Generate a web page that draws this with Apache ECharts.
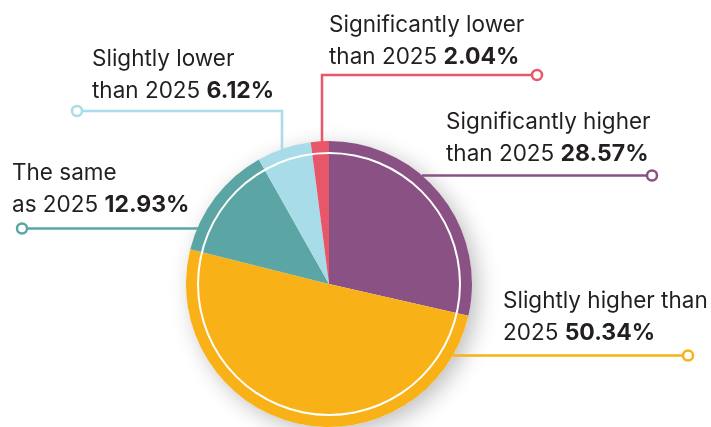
<!DOCTYPE html>
<html>
<head>
<meta charset="utf-8">
<script src="https://cdn.jsdelivr.net/npm/echarts@6/dist/echarts.min.js"></script>
<style>
html,body{margin:0;padding:0;background:#fff;}
#chart{width:711px;height:427px;}
</style>
</head>
<body>
<div id="chart"></div>
<script>
// ---- data ----
var categories = ['Significantly higher than 2025', 'Slightly higher than 2025', 'The same as 2025', 'Slightly lower than 2025', 'Significantly lower than 2025'];
var labelTexts = ['Significantly higher\nthan 2025', 'Slightly higher than\n2025', 'The same\nas 2025', 'Slightly lower\nthan 2025', 'Significantly lower\nthan 2025'];
var values = [28.57, 50.34, 12.93, 6.12, 2.04];

// ---- style / layout ----
var colors = ['#8A5185', '#F9B118', '#5CA5A5', '#A7DCE8', '#E8566A'];
var CX = 329, CY = 284, R = 143;
// label box top-left and leader line paths
var labelPos = [
  {x: 446, y: 106},
  {x: 503, y: 285},
  {x: 12, y: 157},
  {x: 92, y: 43},
  {x: 329, y: 9}
];
var linePaths = [
  [[422, 175.5], [652, 175.5]],
  [[453, 355.5], [688, 355.5]],
  [[198, 228.5], [22, 228.5]],
  [[282, 150], [282, 111], [77, 111]],
  [[322, 143], [322, 75], [537, 75]]
];

var chart = echarts.init(document.getElementById('chart'), null, {renderer: 'canvas'});

var pieData = values.map(function (v, i) {
  return {
    name: categories[i],
    value: v,
    itemStyle: {color: colors[i]},
    labelLine: {lineStyle: {color: colors[i]}}
  };
});

var endCircles = linePaths.map(function (p, i) {
  var end = p[p.length - 1];
  return {
    type: 'circle',
    shape: {cx: end[0], cy: end[1], r: 5},
    style: {fill: '#fff', stroke: colors[i], lineWidth: 2.5},
    z: 100
  };
});

var option = {
  backgroundColor: '#fff',
  animation: false,
  series: [
    {
      type: 'pie',
      silent: true,
      center: [CX, CY],
      radius: [0, R],
      data: [{value: 1, itemStyle: {color: '#fff'}}],
      label: {show: false},
      labelLine: {show: false},
      itemStyle: {
        shadowBlur: 22,
        shadowColor: 'rgba(0,0,0,0.25)',
        shadowOffsetX: 6,
        shadowOffsetY: 6
      },
      z: 1
    },
    {
      type: 'pie',
      center: [CX, CY],
      radius: [0, R],
      startAngle: 90,
      clockwise: true,
      avoidLabelOverlap: false,
      itemStyle: {borderWidth: 0},
      data: pieData,
      label: {
        show: true,
        position: 'outside',
        fontFamily: 'Inter',
        fontSize: 22.5,
        lineHeight: 32,
        color: '#231F20',
        formatter: function (p) {
          return labelTexts[p.dataIndex] + ' {b|' + p.value.toFixed(2) + '%}';
        },
        rich: {
          b: {fontFamily: 'Inter', fontSize: 23, lineHeight: 32, fontWeight: 'bold', color: '#231F20'}
        }
      },
      labelLine: {show: true, lineStyle: {width: 2.5}},
      labelLayout: function (params) {
        var i = params.dataIndex;
        return {
          x: labelPos[i].x,
          y: labelPos[i].y,
          align: 'left',
          verticalAlign: 'top',
          labelLinePoints: linePaths[i]
        };
      },
      z: 2
    },
    {
      type: 'pie',
      silent: true,
      center: [CX, CY],
      radius: [130, 132],
      data: [{value: 1, itemStyle: {color: '#fff'}}],
      label: {show: false},
      labelLine: {show: false},
      z: 3
    }
  ],
  graphic: endCircles
};
chart.setOption(option);
</script>
</body>
</html>
